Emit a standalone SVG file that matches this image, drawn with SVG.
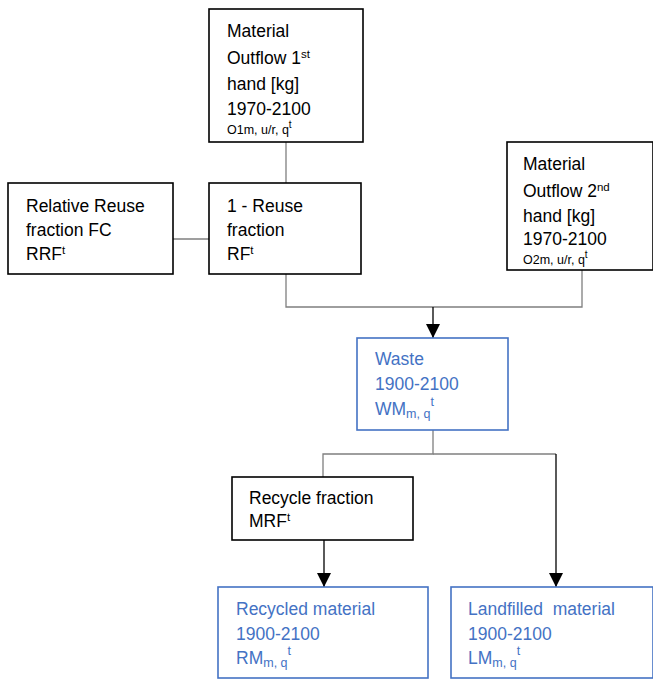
<svg xmlns="http://www.w3.org/2000/svg" width="653" height="680" viewBox="0 0 653 680">
<defs>
<style>
.box{fill:#fff;stroke:#000;stroke-width:1.6}
.bbox{fill:#fff;stroke:#4472C4;stroke-width:1.6}
.t{font-family:"Liberation Sans",Arial,sans-serif;font-size:17.5px;fill:#000}
.b{fill:#4472C4}
.s{font-size:11.5px}
.x{font-size:12.5px}
.u{font-size:10px}
.g{stroke:#7f7f7f;stroke-width:1.3;fill:none}
.k{stroke:#000;stroke-width:1.3;fill:none}
</style>
<marker id="ah" markerWidth="14" markerHeight="14" refX="7" refY="14" orient="0" markerUnits="userSpaceOnUse" viewBox="0 0 14 14">
<path d="M0,0 L14,0 L7,14 Z" fill="#000"/>
</marker>
</defs>
<g id="connectors">
<line class="g" x1="286" y1="142" x2="286" y2="183"/>
<line class="g" x1="173" y1="239" x2="209" y2="239"/>
<polyline class="g" points="286,274 286,307 582,307 582,270"/>
<line class="k" x1="433" y1="307" x2="433" y2="338" marker-end="url(#ah)"/>
<polyline class="g" points="433,430 433,454 323,454 323,477"/>
<polyline class="g" points="433,454 556,454"/>
<line class="k" x1="556" y1="454" x2="556" y2="587" marker-end="url(#ah)"/>
<line class="k" x1="324" y1="540" x2="324" y2="587" marker-end="url(#ah)"/>
</g>
<g id="outflow1">
<rect class="box" x="209" y="9" width="154" height="133"/>
<text class="t" x="227" y="37">Material</text>
<text class="t" x="227" y="64">Outflow 1<tspan class="s" dy="-6">st</tspan></text>
<text class="t" x="227" y="90">hand [kg]</text>
<text class="t" x="227" y="115">1970-2100</text>
<text class="t x" x="227" y="134">O1m, u/r, q<tspan class="u" dy="-6">t</tspan></text>
</g>
<g id="relreuse">
<rect class="box" x="8" y="183" width="165" height="91"/>
<text class="t" x="26" y="212">Relative Reuse</text>
<text class="t" x="26" y="236">fraction FC</text>
<text class="t" x="26" y="260">RRF<tspan class="s" dy="-6">t</tspan></text>
</g>
<g id="reuse">
<rect class="box" x="209" y="183" width="152" height="91"/>
<text class="t" x="227" y="212">1 - Reuse</text>
<text class="t" x="227" y="236">fraction</text>
<text class="t" x="227" y="260">RF<tspan class="s" dy="-6">t</tspan></text>
</g>
<g id="outflow2">
<rect class="box" x="507" y="142" width="146" height="128"/>
<text class="t" x="523" y="170">Material</text>
<text class="t" x="523" y="197">Outflow 2<tspan class="s" dy="-6">nd</tspan></text>
<text class="t" x="523" y="222">hand [kg]</text>
<text class="t" x="523" y="245">1970-2100</text>
<text class="t x" x="523" y="264">O2m, u/r, q<tspan class="u" dy="-6">t</tspan></text>
</g>
<g id="waste">
<rect class="bbox" x="357" y="338" width="151" height="92"/>
<text class="t b" x="375" y="365">Waste</text>
<text class="t b" x="375" y="390">1900-2100</text>
<text class="t b" x="375" y="415">WM<tspan class="x" dy="3">m, q</tspan><tspan class="x" dy="-12">t</tspan></text>
</g>
<g id="recycle">
<rect class="box" x="232" y="477" width="181" height="63"/>
<text class="t" x="249" y="504">Recycle fraction</text>
<text class="t" x="249" y="527">MRF<tspan class="s" dy="-6">t</tspan></text>
</g>
<g id="recycled">
<rect class="bbox" x="218" y="587" width="210" height="91"/>
<text class="t b" x="236" y="615">Recycled material</text>
<text class="t b" x="236" y="640">1900-2100</text>
<text class="t b" x="236" y="664">RM<tspan class="x" dy="3">m, q</tspan><tspan class="x" dy="-12">t</tspan></text>
</g>
<g id="landfilled">
<rect class="bbox" x="451" y="587" width="202" height="91"/>
<text class="t b" x="468" y="615" xml:space="preserve">Landfilled  material</text>
<text class="t b" x="468" y="640">1900-2100</text>
<text class="t b" x="468" y="664">LM<tspan class="x" dy="3">m, q</tspan><tspan class="x" dy="-12">t</tspan></text>
</g>
</svg>
